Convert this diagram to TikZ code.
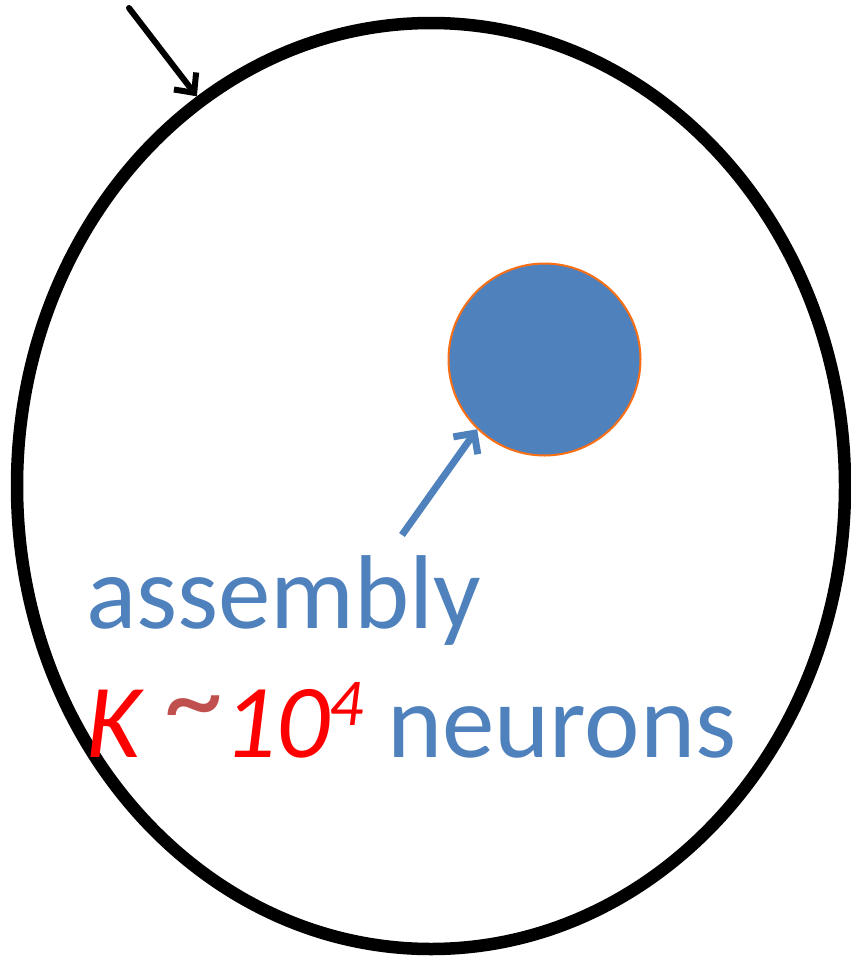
\documentclass[tikz,border=0pt]{standalone}
\usepackage{fontspec}
\setmainfont{Carlito}
\usetikzlibrary{arrows.meta,shapes.geometric}
\definecolor{asmblue}{HTML}{4F81BD}
\definecolor{tildered}{HTML}{C0504D}
\definecolor{rimorange}{RGB}{250,110,20}
\tikzset{
  cellbody/.style={ellipse, draw=black, line width=12.5pt, minimum width=828pt, minimum height=926pt, inner sep=0pt},
  blob/.style={circle, fill=asmblue, draw=rimorange, line width=2pt, minimum size=192pt, inner sep=0pt},
  blackarrow/.style={draw=black, line width=6pt, line cap=round, -{Straight Barb[length=15pt, width=28pt]}},
  bluearrow/.style={draw=asmblue, line width=7pt, -{Straight Barb[length=15pt, width=30pt]}},
  bigtext/.style={anchor=base west, inner sep=0pt, font=\fontsize{105}{126}\selectfont}
}
\begin{document}
\begin{tikzpicture}[x=1pt,y=-1pt]
\useasboundingbox (0,0) rectangle (851,956);
\node[cellbody] (cell) at (431,486) {};
\node[blob] (asm) at (544.5,359.5) {};
\coordinate (intail) at (129,8);
\coordinate (lbltail) at (402,535);
\draw[blackarrow] (intail) -- (cell.121.7);
\draw[bluearrow] (lbltail) -- (asm.226.2);
\node[bigtext, text=asmblue] (lbl1) at (86,628) {assembly};
\node[bigtext] (lbl2) at (86,757) {{\itshape\color{red}K} \raisebox{19pt}{\color{tildered}\fontsize{118}{118}\selectfont\textasciitilde}{\itshape\color{red}10\raisebox{32pt}{\fontsize{67}{67}\selectfont 4}} {\color{asmblue}neurons}};
\end{tikzpicture}
\end{document}
